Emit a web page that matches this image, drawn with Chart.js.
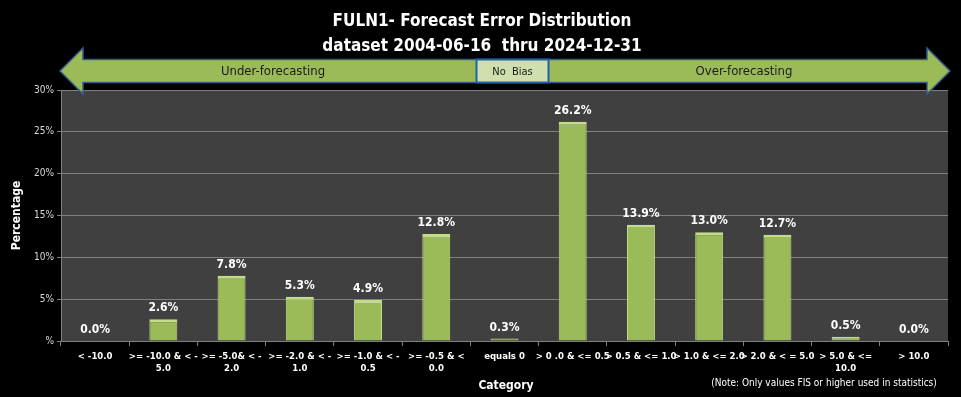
<!DOCTYPE html>
<html>
<head>
<meta charset="utf-8">
<script src="https://cdn.jsdelivr.net/npm/chart.js@4.4.1/dist/chart.umd.min.js"></script>
<style>
  html, body { margin: 0; padding: 0; background: #000; }
  #wrap { width: 961px; height: 397px; }
</style>
</head>
<body>
<div id="wrap"><canvas id="c"></canvas></div>
<script>
  // Forecast error distribution
  const CATEGORIES = [
    '< -10.0',
    ['>= -10.0 & < -', '5.0'],
    ['>= -5.0& < -', '2.0'],
    ['>= -2.0 & < -', '1.0'],
    ['>= -1.0 & < -', '0.5'],
    ['>= -0.5 & <', '0.0'],
    'equals 0',
    '> 0 .0 & <= 0.5',
    '> 0.5 & <= 1.0',
    '> 1.0 & <= 2.0',
    '> 2.0 & < = 5.0',
    ['> 5.0 & <=', '10.0'],
    '> 10.0'
  ];
  const PERCENTS = [0.0, 2.6, 7.8, 5.3, 4.9, 12.8, 0.3, 26.2, 13.9, 13.0, 12.7, 0.5, 0.0];
  const TITLE_LINES = ['FULN1- Forecast Error Distribution', 'dataset 2004-06-16  thru 2024-12-31'];
  const BIAS_LABELS = ['Under-forecasting', 'No  Bias', 'Over-forecasting'];
  const NOTE = '(Note: Only values FIS or higher used in statistics)';

  const FONT = '"DejaVu Sans Condensed", "Liberation Sans", Arial, sans-serif';
  const COLORS = {
    plotBg:  '#404040',
    grid:    '#808080',
    bar:     '#9bbb59',
    barEdge: '#c3dc8a',
    arrow:   '#9bbb59',
    arrowLn: '#385d8a',
    noBias:  '#cfe0ae',
    noBiasLn:'#1f62a8',
    text:    '#ffffff',
    tick:    '#d9d9d9',
  };

  const decor = {
    id: 'decor',
    beforeDraw(chart) {
      const { ctx, chartArea: a } = chart;
      ctx.save();
      ctx.fillStyle = '#000';
      ctx.fillRect(0, 0, chart.width, chart.height);
      ctx.fillStyle = COLORS.plotBg;
      ctx.fillRect(a.left, a.top, a.right - a.left, a.bottom - a.top);
      ctx.restore();
    },
    afterDraw(chart) {
      const { ctx, chartArea: a, scales } = chart;
      ctx.save();

      // titles
      ctx.fillStyle = COLORS.text;
      ctx.textAlign = 'center';
      ctx.textBaseline = 'middle';
      ctx.font = 'bold 17px ' + FONT;
      ctx.fillText(TITLE_LINES[0], 482, 22);
      ctx.fillText(TITLE_LINES[1], 482, 47);

      // double arrow
      const l = a.left - 1, r = a.right + 2;
      const cy = 71, bodyH = 11.5, headH = 23, headW = 23;
      ctx.beginPath();
      ctx.moveTo(l, cy);
      ctx.lineTo(l + headW, cy - headH);
      ctx.lineTo(l + headW, cy - bodyH);
      ctx.lineTo(r - headW, cy - bodyH);
      ctx.lineTo(r - headW, cy - headH);
      ctx.lineTo(r, cy);
      ctx.lineTo(r - headW, cy + headH);
      ctx.lineTo(r - headW, cy + bodyH);
      ctx.lineTo(l + headW, cy + bodyH);
      ctx.lineTo(l + headW, cy + headH);
      ctx.closePath();
      ctx.fillStyle = COLORS.arrow;
      ctx.fill();
      ctx.lineWidth = 1.5;
      ctx.strokeStyle = COLORS.arrowLn;
      ctx.stroke();

      // No Bias box around the "equals 0" category
      const zx = scales.x.getPixelForValue(6) + 8;
      ctx.fillStyle = COLORS.noBias;
      ctx.fillRect(zx - 36, cy - bodyH, 72, bodyH * 2);
      ctx.lineWidth = 2;
      ctx.strokeStyle = COLORS.noBiasLn;
      ctx.strokeRect(zx - 36, cy - bodyH, 72, bodyH * 2);

      ctx.fillStyle = '#1a1a1a';
      ctx.font = '13px ' + FONT;
      ctx.fillText(BIAS_LABELS[0], 273, cy + 1);
      ctx.fillText(BIAS_LABELS[2], 744, cy + 1);
      ctx.font = '11px ' + FONT;
      ctx.fillText(BIAS_LABELS[1], zx, cy + 1);

      // value labels
      const meta = chart.getDatasetMeta(0);
      ctx.fillStyle = COLORS.text;
      ctx.font = 'bold 12px ' + FONT;
      ctx.textBaseline = 'bottom';
      meta.data.forEach((bar, i) => {
        ctx.fillText(PERCENTS[i].toFixed(1) + '%', bar.x, bar.y - 5);
      });

      // axis titles and note
      ctx.font = 'bold 12px ' + FONT;
      ctx.textBaseline = 'middle';
      ctx.fillText('Category', 506, 386);
      ctx.save();
      ctx.translate(17, (a.top + a.bottom) / 2);
      ctx.rotate(-Math.PI / 2);
      ctx.fillText('Percentage', 0, 0);
      ctx.restore();
      ctx.font = '10px ' + FONT;
      ctx.fillText(NOTE, 824, 383);

      ctx.restore();
    }
  };

  new Chart(document.getElementById('c'), {
    type: 'bar',
    data: {
      labels: CATEGORIES,
      datasets: [{
        data: PERCENTS,
        backgroundColor: COLORS.bar,
        borderColor: COLORS.barEdge,
        borderWidth: { top: 3, left: 1, right: 1, bottom: 0 },
        borderSkipped: false,
        barPercentage: 0.41,
        categoryPercentage: 1,
      }],
    },
    options: {
      responsive: true,
      maintainAspectRatio: false,
      animation: false,
      layout: { padding: { top: 90, right: 13, left: 0, bottom: 0 } },
      plugins: { legend: { display: false }, tooltip: { enabled: false } },
      scales: {
        x: {
          offset: true,
          grid: {
            offset: true,
            drawOnChartArea: false,
            color: COLORS.grid,
            tickLength: 5,
          },
          border: { color: COLORS.grid },
          ticks: {
            color: COLORS.text,
            font: { family: FONT, size: 9.5, weight: 'bold' },
            maxRotation: 0,
            autoSkip: false,
            padding: 5,
          },
          afterFit: s => { s.height = 56; },
        },
        y: {
          min: 0,
          max: 30,
          grid: { color: COLORS.grid, tickLength: 4 },
          border: { color: COLORS.grid },
          ticks: {
            stepSize: 5,
            color: COLORS.tick,
            font: { family: FONT, size: 10 },
            padding: 3,
            callback: v => (v === 0 ? '' : v) + '%',
          },
          afterFit: s => { s.width = 61; },
        },
      },
    },
    plugins: [decor],
  });
</script>
</body>
</html>
